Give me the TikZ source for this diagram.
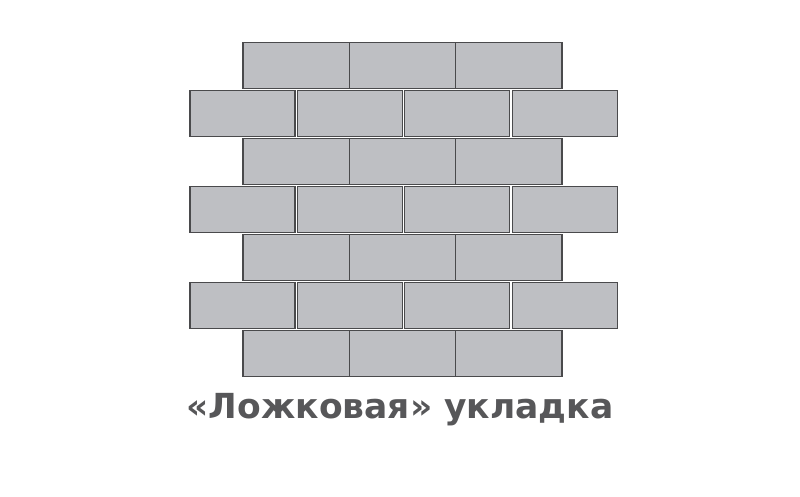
\documentclass[tikz,border=0pt]{standalone}
\usepackage{fontspec}
\newfontfamily\captionfont{DejaVu Sans}
\definecolor{brickgray}{HTML}{BEBFC3}
\definecolor{jointgray}{HTML}{4A4A4C}
\definecolor{captiongray}{HTML}{575759}

\begin{document}
\begin{tikzpicture}[x=1pt,y=-1pt,
    brick/.style={draw=jointgray, fill=brickgray, line width=1.3pt,
      minimum height=46pt, inner sep=0pt, outer sep=0pt},
    longbrick/.style={brick, minimum width=106.3pt},
    shortbrick/.style={brick, minimum width=105pt}]
    \useasboundingbox (0,0) rectangle (800,496);
    % Rows with three bricks (joints touch)
    \foreach \r in {0,2,4,6} {
        \foreach \c in {0,1,2} {
            \node[longbrick] (b\r\c) at (296.2+\c*106.3, 65.5+\r*48) {};
        }
    }
    % Rows with four bricks, shifted by half a brick
    \foreach \r in {1,3,5} {
        \foreach \c in {0,1,2,3} {
            \node[shortbrick] (b\r\c) at (242.5+\c*107.4, 65.5+\r*48) {};
        }
    }
    % Caption
    \node[font=\captionfont\bfseries\fontsize{34.5}{40}\selectfont, text=captiongray,
        anchor=base, inner sep=0pt] (caption) at (400,418) {«Ложковая» укладка};
\end{tikzpicture}
\end{document}
